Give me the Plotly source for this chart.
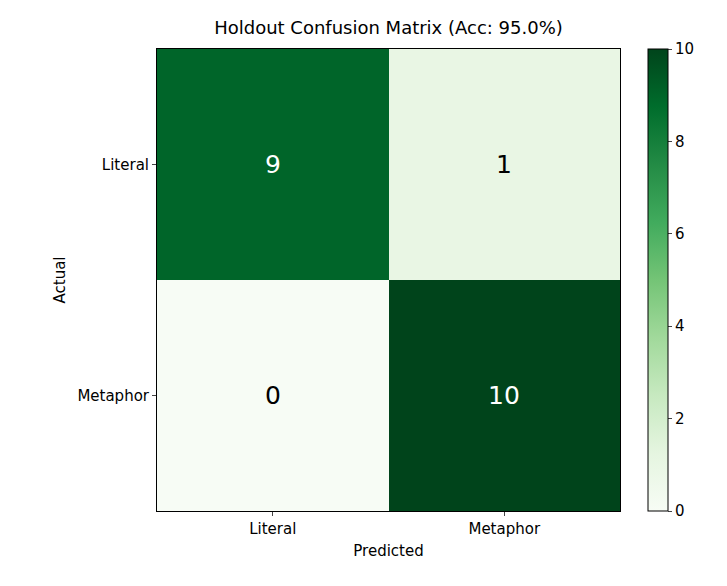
import plotly.graph_objects as go

labels = ["Literal", "Metaphor"]
z = [[9, 1], [0, 10]]
title = "Holdout Confusion Matrix (Acc: 95.0%)"

greens = ["#f7fcf5", "#e5f5e0", "#c7e9c0", "#a1d99b", "#74c476", "#41ab5d", "#238b45", "#006d2c", "#00441b"]
cs = [[i / 8, c] for i, c in enumerate(greens)]

fig = go.Figure(go.Heatmap(
    z=z, x=labels, y=labels, colorscale=cs, zmin=0, zmax=10,
    colorbar=dict(x=1.06, xanchor="left", xpad=0, ypad=0, y=0, yanchor="bottom", len=1, lenmode="fraction",
                  thickness=20, outlinecolor="black", outlinewidth=1, ticks="outside",
                  ticklen=4, tickvals=[0, 2, 4, 6, 8, 10], tickfont=dict(size=15, color="black")),
))
for i, row in enumerate(z):
    for j, v in enumerate(row):
        fig.add_annotation(x=labels[j], y=labels[i], text=str(v), showarrow=False,
                           font=dict(size=25, color="white" if v > 5 else "black"))

ax = dict(showline=True, mirror=True, linecolor="black", linewidth=1, ticks="outside",
          ticklen=4, tickfont=dict(size=15, color="black"), showgrid=False, zeroline=False)
fig.update_layout(
    width=727, height=586, plot_bgcolor="white", paper_bgcolor="white",
    font=dict(family="DejaVu Sans", color="black"),
    margin=dict(l=149, r=115, t=41, b=83),
    title=dict(text=title, x=0.5, xref="paper", xanchor="center", y=1 - 20 / 586, yanchor="middle",
               font=dict(size=18)),
    xaxis=dict(**ax, title=dict(text="Predicted", font=dict(size=15), standoff=8)),
    yaxis=dict(**ax, autorange="reversed", title=dict(text="Actual", font=dict(size=15), standoff=8)),
)
fig.write_html("out.html")
